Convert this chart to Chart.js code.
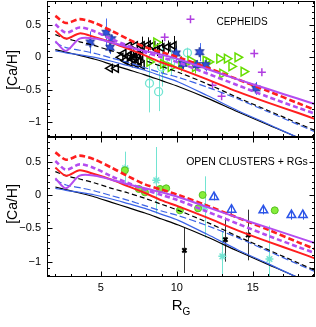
<!DOCTYPE html>
<html>
<head>
<meta charset="utf-8">
<script src="https://cdn.jsdelivr.net/npm/chart.js@4"></script>
<style>
html, body { margin: 0; padding: 0; background: #fff; }
#wrap { position: relative; width: 316px; height: 327px; font-family: "Liberation Sans", Arial, sans-serif; color: #000; }
canvas { position: absolute; left: 0; }
#top { top: 0; }
#bot { top: 136px; }
.lbl { position: absolute; white-space: nowrap; transform: translate(-50%, -50%); line-height: 1; }
.rot { transform: translate(-50%, -50%) rotate(-90deg); }
</style>
</head>
<body>
<div id="wrap">
  <canvas id="top" width="316" height="139"></canvas>
  <canvas id="bot" width="316" height="190"></canvas>
  <div class="lbl rot" style="left:12px;top:70px;font-size:14px">[Ca/H]</div>
  <div class="lbl rot" style="left:12px;top:204px;font-size:14px">[Ca/H]</div>
  <div class="lbl" style="left:242px;top:22px;font-size:10px">CEPHEIDS</div>
  <div class="lbl" style="left:247px;top:161px;font-size:10.5px">OPEN CLUSTERS + RGs</div>
  <div class="lbl" style="left:181px;top:304px;font-size:15px">R<span style="font-size:10px;position:relative;top:5px">G</span></div>
</div>
<script>
// axes
const xMin = 1.45, xMax = 19.1;
const yMin = -1.23, yMax = 0.87;
const xTicks = [5, 10, 15];
const yTicks = [-1, -0.5, 0, 0.5];

// model curves (same in both panels)
const modelR     = [2.0, 2.7, 3.6, 4.6, 5.7, 6.8, 7.9, 9.0, 10.1, 12, 14, 16, 18, 19.2];
const redDash    = [0.64, 0.53, 0.59, 0.53, 0.41, 0.28, 0.16, 0.08, 0.0, -0.16, -0.34, -0.52, -0.71, -0.82];
const redSolid   = [0.41, 0.29, 0.37, 0.31, 0.23, 0.13, 0.03, -0.08, -0.17, -0.34, -0.53, -0.70, -0.86, -0.96];
const purpleDash = [0.51, 0.38, 0.46, 0.40, 0.28, 0.18, 0.08, 0.0, -0.08, -0.25, -0.43, -0.61, -0.78, -0.88];
const purpleSolid= [0.25, 0.10, 0.29, 0.29, 0.23, 0.16, 0.10, 0.04, -0.03, -0.18, -0.34, -0.49, -0.64, -0.73];
const blackDash  = [0.35, 0.29, 0.24, 0.18, 0.10, 0.03, -0.05, -0.14, -0.23, -0.41, -0.62, -0.82, -1.02, -1.14];
const blueDash   = [0.23, 0.15, 0.11, 0.06, -0.01, -0.08, -0.16, -0.24, -0.31, -0.46, -0.64, -0.84, -1.04, -1.16];
const blackSolid = [0.12, 0.08, 0.03, -0.03, -0.11, -0.19, -0.27, -0.36, -0.45, -0.63, -0.84, -1.04, -1.24, -1.35];
const blueSolid  = [0.10, 0.07, 0.04, 0.0, -0.06, -0.13, -0.20, -0.29, -0.38, -0.59, -0.82, -1.03, -1.24, -1.35];

// Cepheids
const cephStarR = [4.3, 5.35, 5.7, 5.6, 9.95, 11.5, 11.9, 10.4, 11.3, 15.2];
const cephStarV = [0.23, 0.38, 0.28, 0.15, 0.06, 0.08, -0.12, -0.10, -0.12, -0.48];
const cephStarE = [0.17, 0.22, 0.06, 0.10, 0.12, 0.14, 0.10, 0.08, 0.08, 0.10];
const cephLeftR = [5.6, 6.0, 6.3, 6.5, 6.6, 6.8, 6.9, 7.0, 7.1, 7.2, 7.3, 7.4, 7.5, 7.6, 7.7, 6.85, 7.25, 7.7, 8.1, 8.4, 8.7, 9.0, 9.4, 9.8];
const cephLeftV = [-0.17, -0.17, 0.0, 0.06, -0.05, 0.02, -0.08, 0.05, -0.03, 0.0, -0.10, 0.04, -0.06, 0.02, -0.12, 0.18, 0.18, 0.18, 0.19, 0.18, 0.12, 0.15, 0.16, 0.18];
const cephLeftE = [0, 0, 0, 0, 0, 0, 0, 0.1, 0, 0, 0, 0, 0, 0.12, 0, 0, 0, 0.14, 0.12, 0, 0.1, 0.12, 0.1, 0.15];
const cephRightR = [8.65, 8.2, 9.1, 9.6, 10.3, 10.9, 11.2, 11.9, 12.1, 12.8, 13.3, 14.0, 13.6, 14.4, 13.0];
const cephRightV = [0.23, -0.07, -0.1, -0.15, -0.1, -0.05, -0.15, -0.05, -0.07, -0.02, -0.02, 0.0, -0.14, -0.22, -0.25];
const cephRightE = [0, 0.12, 0.15, 0.1, 0.12, 0, 0.1, 0, 0, 0, 0, 0, 0, 0, 0];
const cephPlusR = [9.2, 10.9, 15.1, 15.6, 12.35, 12.95];
const cephPlusV = [0.31, 0.59, 0.06, -0.23, -0.43, -0.6];
const cephCircR = [8.2, 8.8, 10.7, 9.0, 9.6];
const cephCircV = [-0.40, -0.53, 0.07, -0.15, -0.08];
const cephCircE = [0.45, 0.3, 0.08, 0.3, 0.2];

// open clusters + red giants
const ocDotR = [6.58, 7.5, 7.9, 8.9, 9.3, 10.2, 11.4, 11.7, 16.45];
const ocDotV = [0.37, 0.09, 0.04, 0.09, 0.1, -0.23, -0.2, 0.0, -0.23];
const ocDotE = [0.06, 0, 0, 0.05, 0, 0, 0, 0, 0];
const ocTriR = [12.45, 13.6, 15.7, 17.55, 18.3];
const ocTriV = [-0.03, -0.22, -0.23, -0.30, -0.30];
const ocTriE = [0.05, 0.07, 0.06, 0.07, 0.07];
const ocCrossR = [10.5, 13.2, 14.7];
const ocCrossV = [-0.83, -0.67, -0.60];
const ocCrossE = [0.34, 0.33, 0.38];
const ocAstR = [6.6, 8.65, 11.84, 13.0, 16.1];
const ocAstV = [0.40, 0.22, -0.18, -0.92, -0.96];
const ocAstE = [0.25, 0.5, 0.46, 0.37, 0.5];

const RED = '#ff1e1e', PURPLE = '#b44cf0', BLUE = '#3a62e6', CYAN = '#72e4d2', GREEN = '#66dd00';

const pts = (xs, ys) => xs.map((x, i) => ({ x, y: ys[i] }));

function starImage(r, fill, stroke) {
    const c = document.createElement('canvas');
    const s = Math.ceil(r * 2 + 2);
    c.width = c.height = s;
    const g = c.getContext('2d');
    g.translate(s / 2, s / 2);
    g.beginPath();
    for (let i = 0; i < 12; i++) {
        const a = -Math.PI / 2 + i * Math.PI / 6;
        const rr = i % 2 ? r * 0.5 : r;
        g.lineTo(rr * Math.cos(a), rr * Math.sin(a));
    }
    g.closePath();
    g.fillStyle = fill; g.fill();
    g.strokeStyle = stroke; g.lineWidth = 1; g.stroke();
    return c;
}

function modelSets() {
    const line = (v, color, w, dash) => ({
        data: pts(modelR, v), showLine: true, pointRadius: 0,
        borderColor: color, borderWidth: w, borderDash: dash || [], tension: 0.3, fill: false,
    });
    return [
        line(purpleSolid, PURPLE, 2),
        line(redDash, RED, 2.6, [6, 3]),
        line(purpleDash, PURPLE, 2.6, [5, 3]),
        line(redSolid, RED, 2),
        line(blackDash, '#000', 1.2, [5, 3]),
        line(blueDash, BLUE, 1.2, [7, 3]),
        line(blueSolid, BLUE, 1.2),
        line(blackSolid, '#000', 1.2),
    ];
}

// vertical error bars, drawn under the markers
const errorBars = {
    id: 'errorBars',
    beforeDatasetsDraw(chart) {
        const { ctx, chartArea: a, scales: { x, y } } = chart;
        ctx.save();
        ctx.beginPath(); ctx.rect(a.left, a.top, a.right - a.left, a.bottom - a.top); ctx.clip();
        chart.data.datasets.forEach(ds => {
            if (!ds.err) return;
            ctx.strokeStyle = ds.errColor || ds.borderColor;
            ctx.lineWidth = 1;
            ds.data.forEach((p, i) => {
                const e = ds.err[i];
                if (!e) return;
                const px = Math.round(x.getPixelForValue(p.x)) + 0.5;
                ctx.beginPath();
                ctx.moveTo(px, y.getPixelForValue(p.y - e));
                ctx.lineTo(px, y.getPixelForValue(p.y + e));
                ctx.stroke();
            });
        });
        ctx.restore();
    }
};

// box frame with inward ticks on all four sides
const frameTicks = {
    id: 'frameTicks',
    afterDraw(chart) {
        const { ctx, chartArea: a, scales: { x, y } } = chart;
        ctx.save();
        ctx.strokeStyle = '#000';
        ctx.lineWidth = 1;
        const L = Math.round(a.left) + 0.5, R = Math.round(a.right) - 0.5;
        const T = Math.round(a.top) + 0.5, B = Math.round(a.bottom) - 0.5;
        ctx.strokeRect(L, T, R - L, B - T);
        ctx.beginPath();
        for (let k = -12; k <= 8; k++) {
            const py = Math.round(y.getPixelForValue(k / 10)) + 0.5;
            const len = k % 5 === 0 ? 5 : 2.5;
            ctx.moveTo(L, py); ctx.lineTo(L + len, py);
            ctx.moveTo(R, py); ctx.lineTo(R - len, py);
        }
        for (let k = 2; k <= 19; k++) {
            const px = Math.round(x.getPixelForValue(k)) + 0.5;
            const len = k % 5 === 0 ? 5 : 2.5;
            ctx.moveTo(px, B); ctx.lineTo(px, B - len);
            ctx.moveTo(px, T); ctx.lineTo(px, T + len);
        }
        ctx.stroke();
        ctx.restore();
    }
};

const tickFont = { family: '"Liberation Sans", Arial, sans-serif', size: 11 };
const fmt = v => v === 0 ? '0' : (v < 0 ? '\u2212' + Math.abs(v) : String(v));

function makeChart(id, datasets, showX, padding) {
    return new Chart(document.getElementById(id), {
        type: 'scatter',
        data: { datasets },
        options: {
            responsive: false,
            animation: false,
            layout: { padding, autoPadding: false },
            plugins: { legend: { display: false }, tooltip: { enabled: false } },
            scales: {
                x: {
                    type: 'linear', min: xMin, max: xMax, display: showX,
                    grid: { display: false, drawTicks: false }, border: { display: false },
                    ticks: { font: tickFont, color: '#000', padding: 4, maxRotation: 0 },
                    afterBuildTicks: s => { s.ticks = xTicks.map(v => ({ value: v })); },
                    afterFit: s => {
                        if (showX) s.height = 49;
                        s.paddingLeft = 0; s.paddingRight = 0;
                    },
                },
                y: {
                    type: 'linear', min: yMin, max: yMax,
                    grid: { display: false, drawTicks: false }, border: { display: false },
                    ticks: { font: tickFont, color: '#000', padding: 6, callback: fmt },
                    afterBuildTicks: s => { s.ticks = yTicks.map(v => ({ value: v })); },
                    afterFit: s => {
                        s.width = 47;
                        s.paddingTop = 0; s.paddingBottom = 0;
                    },
                },
            },
        },
        plugins: [errorBars, frameTicks],
    });
}

const blueStar = starImage(5, '#2f52dc', '#1a2f9a');

const cephSets = modelSets().concat([
    { data: pts(cephStarR, cephStarV), err: cephStarE, errColor: '#4a70f0', pointStyle: blueStar, pointRadius: 5, borderColor: BLUE },
    { data: pts(cephPlusR, cephPlusV), pointStyle: 'cross', pointRadius: 4, borderWidth: 1.5, borderColor: '#b03ee0' },
    { data: pts(cephRightR, cephRightV), err: cephRightE, pointStyle: 'triangle', rotation: 90, pointRadius: 5, borderWidth: 1.5, borderColor: GREEN, backgroundColor: 'rgba(0,0,0,0)' },
    { data: pts(cephLeftR, cephLeftV), err: cephLeftE, pointStyle: 'triangle', rotation: -90, pointRadius: 4.5, borderWidth: 1.5, borderColor: '#000', backgroundColor: 'rgba(0,0,0,0)' },
    { data: pts(cephCircR, cephCircV), err: cephCircE, pointStyle: 'circle', pointRadius: 4, borderWidth: 1.3, borderColor: CYAN, backgroundColor: 'rgba(0,0,0,0)' },
]);

const ocSets = modelSets().concat([
    { data: pts(ocTriR, ocTriV), err: ocTriE, pointStyle: 'triangle', pointRadius: 5, borderWidth: 1.5, borderColor: '#2c55e8', backgroundColor: 'rgba(0,0,0,0)' },
    { data: pts(ocCrossR, ocCrossV), err: ocCrossE, errColor: '#333', pointStyle: 'crossRot', pointRadius: 3, borderWidth: 2, borderColor: '#000' },
    { data: pts(ocDotR, ocDotV), err: ocDotE, pointStyle: 'circle', pointRadius: 3.5, borderWidth: 1, borderColor: '#55c020', backgroundColor: '#86ee3a' },
    { data: pts(ocAstR, ocAstV), err: ocAstE, pointStyle: 'star', pointRadius: 4, borderWidth: 1.5, borderColor: CYAN },
]);

makeChart('top', cephSets, false, { left: 0, right: 1, top: 1, bottom: 2 });
makeChart('bot', ocSets, true, { left: 0, right: 1, top: 1, bottom: 0 });
</script>
</body>
</html>
